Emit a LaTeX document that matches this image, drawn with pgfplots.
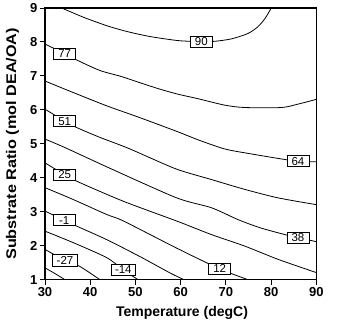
\documentclass[border=0pt]{standalone}
\usepackage{fontspec}
\setmainfont{Liberation Sans}
\usepackage{graphicx}
\usepackage{pgfplots}
\pgfplotsset{compat=1.18}
\begin{document}
\begin{tikzpicture}
\path[use as bounding box] (-45pt,-47.3pt) rectangle (292pt,279.7pt);
\begin{axis}[
  at={(0,0)}, anchor=south west,
  scale only axis, width=271.3pt, height=271.7pt,
  xmin=30, xmax=90, ymin=1, ymax=9,
  xtick={30,40,50,60,70,80,90}, ytick={1,2,3,4,5,6,7,8,9},
  tick align=outside, xtick pos=left, ytick pos=left,
  major tick length=5pt,
  tick style={black, line width=1pt},
  axis line style={black, line width=1.2pt},
  /pgf/number format/assume math mode=true,
  ticklabel style={font=\bfseries\fontsize{13}{13}\selectfont},
  xticklabel style={yshift=1pt},
  yticklabel style={xshift=1pt},
  xlabel={Temperature (degC)},
  ylabel={\scalebox{1.16}[1]{Substrate Ratio (mol DEA/OA)}},
  xlabel style={at={(axis description cs:0.505,-0.1226)},anchor=center,font=\bfseries\fontsize{14}{14}\selectfont},
  ylabel style={at={(axis description cs:-0.12,0.5)},anchor=center,font=\bfseries\fontsize{14}{14}\selectfont},
  clip=true,
]
\pgfplotsset{cl/.style={black, line width=0.8pt, smooth, tension=0.45}}
% 90
\addplot[cl] coordinates {(33.69,9.0) (38.47,8.73) (43.64,8.48) (48.07,8.31) (53.22,8.16) (59.48,8.04) (64.50,8.01) (67.53,8.02) (71.20,8.09) (74.89,8.25) (77.10,8.45) (78.70,8.70) (80.04,9.0)};
% 77
\addplot[cl] coordinates {(30,7.94) (34.42,7.65) (37.01,7.47) (42.16,7.16) (46.96,6.98) (50.99,6.80) (55.43,6.61) (59.48,6.46) (63.83,6.33) (69.74,6.14) (74.16,6.07) (82.26,6.07) (85.95,6.17) (90,6.31)};
% 64
\addplot[cl] coordinates {(30,6.85) (36.26,6.51) (43.64,6.12) (51.01,5.77) (59.48,5.35) (63.83,5.12) (69.74,4.85) (75.33,4.71) (83.01,4.54) (85.95,4.49) (90,4.47)};
% 51
\addplot[cl] coordinates {(30,6.02) (34.36,5.67) (37.01,5.48) (42.16,5.19) (48.07,4.89) (53.22,4.59) (59.41,4.24) (66.78,3.95) (74.16,3.66) (81.53,3.41) (90,3.21)};
% 38
\addplot[cl] coordinates {(30,5.14) (34.42,4.89) (44.37,4.28) (59.12,3.41) (66.78,3.12) (72.68,2.77) (77.55,2.53) (83.01,2.33) (85.95,2.24) (90,2.12)};
% 25
\addplot[cl] coordinates {(30,4.44) (34.36,4.09) (37.01,3.90) (47.32,3.31) (59.48,2.71) (66.78,2.33) (74.16,1.99) (81.53,1.60) (90,1.21)};
% 12
\addplot[cl] coordinates {(30,3.71) (36.26,3.36) (43.64,2.92) (47.32,2.73) (59.41,1.91) (68.63,1.32) (74.89,1.0)};
% -1
\addplot[cl] coordinates {(30,3.02) (34.25,2.75) (36.63,2.60) (43.64,2.18) (51.01,1.68) (57.64,1.20) (60.74,1.0)};
% -14
\addplot[cl] coordinates {(30,2.43) (36.26,2.09) (43.64,1.65) (47.32,1.29) (50.57,1.0)};
% -27
\addplot[cl] coordinates {(30,1.89) (34.42,1.57) (37.59,1.40) (42.16,1.0)};
% -40
\addplot[cl] coordinates {(30,1.35) (32.21,1.18) (34.42,1.0)};
\tikzset{lab/.style={draw=black, fill=white, line width=0.8pt, inner xsep=4pt, inner ysep=1.6pt, minimum width=22pt, font=\fontsize{11.5}{11.5}\selectfont}}
\node[lab] at (axis cs:64.57,8.01) {90};
\node[lab] at (axis cs:34.36,7.65) {77};
\node[lab] at (axis cs:85.95,4.49) {64};
\node[lab] at (axis cs:34.36,5.67) {51};
\node[lab] at (axis cs:85.95,2.24) {38};
\node[lab] at (axis cs:34.36,4.09) {25};
\node[lab] at (axis cs:68.63,1.32) {12};
\node[lab] at (axis cs:34.25,2.75) {-1};
\node[lab] at (axis cs:47.32,1.29) {-14};
\node[lab] at (axis cs:34.42,1.57) {-27};
\end{axis}
\end{tikzpicture}
\end{document}
